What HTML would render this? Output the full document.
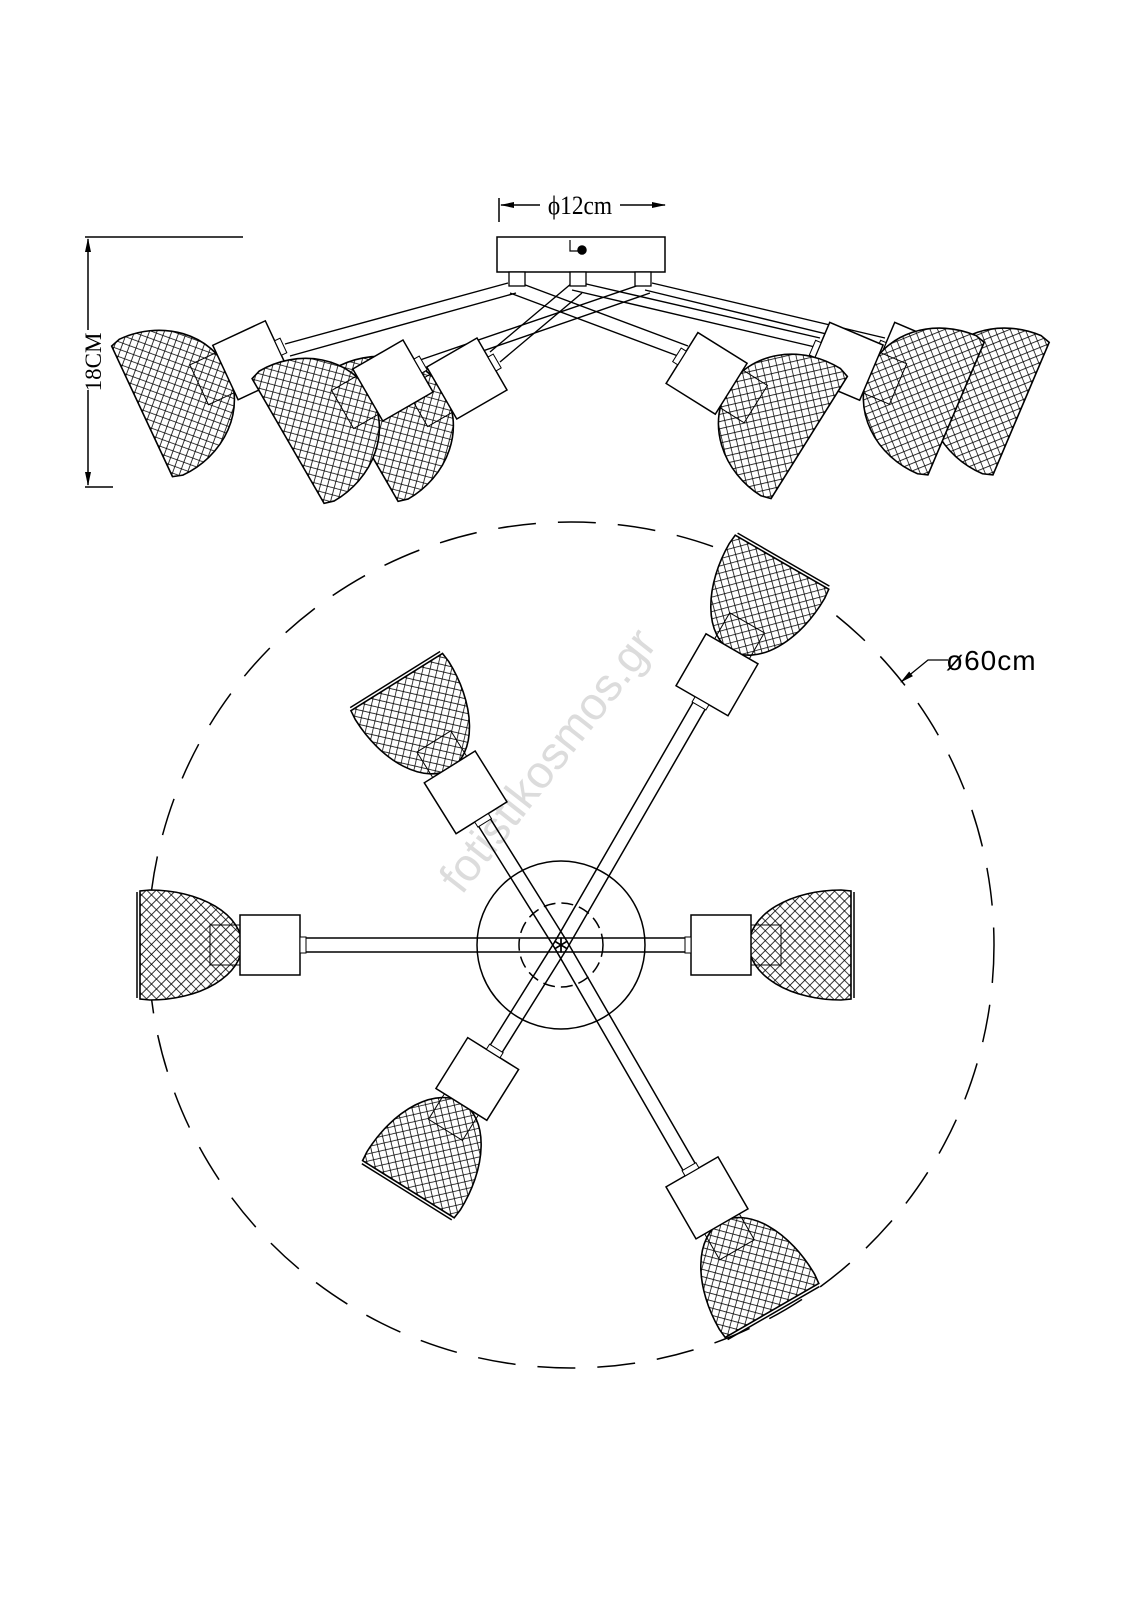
<!DOCTYPE html>
<html><head><meta charset="utf-8"><style>
html,body{margin:0;padding:0;background:#fff}
svg{display:block}
</style></head><body>
<svg width="1131" height="1600" viewBox="0 0 1131 1600" xmlns="http://www.w3.org/2000/svg">
<defs>
<pattern id="mesh" width="7" height="7" patternUnits="userSpaceOnUse" patternTransform="rotate(45)">
<rect width="7" height="7" fill="#fff"/>
<path d="M0 0V7M0 0H7" stroke="#000" stroke-width="1.6"/>
</pattern>
<g id="lamp">
<path d="M160,-54 L160,54 L150,55 A92,55 0 0 1 150,-55 Z" fill="url(#mesh)" stroke="#000" stroke-width="1.6"/>
<line x1="163" y1="-53" x2="163" y2="53" stroke="#000" stroke-width="1.5"/>
<rect x="60" y="-20" width="30" height="40" fill="none" stroke="#000" stroke-width="1"/>
<rect x="0" y="-30" width="60" height="60" fill="#fff" stroke="#000" stroke-width="1.5"/>
<rect x="-6" y="-8" width="6" height="16" fill="#fff" stroke="#000" stroke-width="1"/>
</g>
<g id="slamp">
<path d="M150,-72 L150,72 L140,75 A85,75 0 0 1 140,-75 Z" fill="url(#mesh)" stroke="#000" stroke-width="1.6"/>
<rect x="55" y="-22" width="32" height="44" fill="none" stroke="#000" stroke-width="1"/>
<rect x="0" y="-30" width="58" height="60" fill="#fff" stroke="#000" stroke-width="1.5"/>
<rect x="-6" y="-8" width="6" height="16" fill="#fff" stroke="#000" stroke-width="1"/>
</g>
<marker id="arr" markerWidth="14" markerHeight="8" refX="13" refY="4" orient="auto" markerUnits="userSpaceOnUse">
<path d="M0,1 L14,4 L0,7 Z" fill="#000"/>
</marker>
</defs>

<text x="0" y="0" transform="translate(560,770) rotate(-52)" text-anchor="middle" font-family="Liberation Sans, sans-serif" font-size="46" fill="#dcdcdc">fotistikosmos.gr</text>

<!-- SIDE VIEW -->
<g stroke="#000" stroke-width="1.5" fill="none">
<line x1="85" y1="237" x2="243" y2="237"/>
<line x1="85" y1="487" x2="113" y2="487"/>
<line x1="88" y1="330" x2="88" y2="239" marker-end="url(#arr)"/>
<line x1="88" y1="390" x2="88" y2="485" marker-end="url(#arr)"/>
<line x1="499" y1="198" x2="499" y2="222"/>
<line x1="540" y1="205" x2="501" y2="205" marker-end="url(#arr)"/>
<line x1="620" y1="205" x2="665" y2="205" marker-end="url(#arr)"/>
</g>
<text transform="translate(101,362) rotate(-90)" text-anchor="middle" font-family="Liberation Serif, serif" font-size="23">18CM</text>
<text x="580" y="214" text-anchor="middle" font-family="Liberation Serif, serif" font-size="26" transform="translate(580,0) scale(0.9,1) translate(-580,0)">ϕ12cm</text>

<g stroke="#000" stroke-width="1.4" fill="none">
<path d="M508,283 L285,344 M516,293 L290,356"/>
<path d="M645,283 L420,360 M650,293 L428,370"/>
<path d="M572,283 L490,352 M582,293 L500,362"/>
<path d="M510,293 L678,356 M520,283 L688,346"/>
<path d="M572,290 L815,347 M582,283 L820,338"/>
<path d="M645,290 L880,347 M652,283 L885,338"/>
</g>
<rect x="497" y="237" width="168" height="35" fill="#fff" stroke="#000" stroke-width="1.5"/>
<path d="M570,240 V251 H578" stroke="#000" stroke-width="1.2" fill="none"/>
<circle cx="582" cy="250" r="4" fill="#000" stroke="#000" stroke-width="1.5"/>
<g fill="#fff" stroke="#000" stroke-width="1.3">
<rect x="509" y="272" width="16" height="14"/><rect x="570" y="272" width="16" height="14"/><rect x="635" y="272" width="16" height="14"/>
</g>
<g transform="translate(883,350) rotate(23)"><use href="#slamp"/></g>
<g transform="translate(818,350) rotate(23)"><use href="#slamp"/></g>
<g transform="translate(682,358) rotate(32)"><use href="#slamp"/></g>
<g transform="translate(278,348) rotate(155)"><use href="#slamp"/></g>
<g transform="translate(492,364) rotate(150)"><use href="#slamp"/></g>
<g transform="translate(418,366) rotate(150)"><use href="#slamp"/></g>

<!-- TOP VIEW -->
<circle cx="571" cy="945" r="423" fill="none" stroke="#000" stroke-width="1.5" stroke-dasharray="38,22"/>
<path d="M948,660 H928 L901,682" fill="none" stroke="#000" stroke-width="1.3" marker-end="url(#arr)"/>
<text x="946" y="670" font-family="Liberation Sans, sans-serif" font-size="28" letter-spacing="1">ø60cm</text>

<circle cx="561" cy="945" r="84" fill="#fff" stroke="#000" stroke-width="1.5"/>
<circle cx="561" cy="945" r="42" fill="none" stroke="#000" stroke-width="1.5" stroke-dasharray="12,6"/>

<g stroke="#000" stroke-width="1.5" fill="#fff">
<g transform="translate(561,945) rotate(180)"><rect x="0" y="-7" width="261" height="14" fill="none"/><g transform="translate(261,0)"><use href="#lamp"/></g></g>
<g transform="translate(561,945) rotate(0)"><rect x="0" y="-7" width="130" height="14" fill="none"/><g transform="translate(130,0)"><use href="#lamp"/></g></g>
<g transform="translate(561,945) rotate(-122)"><rect x="0" y="-7" width="150" height="14" fill="none"/><g transform="translate(150,0)"><use href="#lamp"/></g></g>
<g transform="translate(561,945) rotate(-60)"><rect x="0" y="-7" width="282" height="14" fill="none"/><g transform="translate(282,0)"><use href="#lamp"/></g></g>
<g transform="translate(561,945) rotate(122)"><rect x="0" y="-7" width="128" height="14" fill="none"/><g transform="translate(128,0)"><use href="#lamp"/></g></g>
<g transform="translate(561,945) rotate(60)"><rect x="0" y="-7" width="262" height="14" fill="none"/><g transform="translate(262,0)"><use href="#lamp"/></g></g>
</g>
</svg>
</body></html>
